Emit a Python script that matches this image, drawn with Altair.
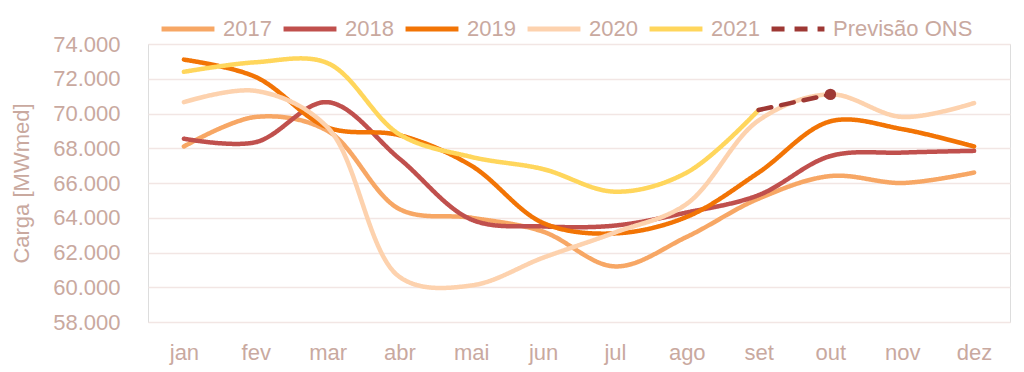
import altair as alt
import pandas as pd

months = ["jan", "fev", "mar", "abr", "mai", "jun", "jul", "ago", "set", "out", "nov", "dez"]

v2017 = [68100, 69800, 69000, 64500, 64000, 63200, 61200, 62900, 65100, 66400, 66000, 66600]
v2018 = [68550, 68350, 70650, 67400, 63900, 63500, 63550, 64300, 65300, 67550, 67750, 67850]
v2019 = [73100, 72100, 69200, 68750, 67000, 63700, 63100, 64050, 66600, 69550, 69100, 68100]
v2020 = [70650, 71300, 69200, 60600, 60100, 61700, 63150, 64800, 69600, 71100, 69800, 70600]
v2021 = [72400, 72950, 72900, 68800, 67500, 66800, 65500, 66600, 70200]
prev_months = ["set", "out"]
prev_values = [70200, 71100]
y_ticks = [58000, 60000, 62000, 64000, 66000, 68000, 70000, 72000, 74000]

series_names = ["2017", "2018", "2019", "2020", "2021", "Previsão ONS"]
series_colors = ["#F7A765", "#C0504D", "#F27405", "#FDD2AE", "#FFD65C", "#9E3834"]
series_dash = [[1, 0], [1, 0], [1, 0], [1, 0], [1, 0], [13, 10]]

rows = []
for name, vals in zip(series_names[:5], [v2017, v2018, v2019, v2020, v2021]):
    for m, v in zip(months, vals):
        rows.append({"mes": m, "serie": name, "carga": v})
for m, v in zip(prev_months, prev_values):
    rows.append({"mes": m, "serie": "Previsão ONS", "carga": v})
df = pd.DataFrame(rows)
df_point = pd.DataFrame({"mes": prev_months[-1:], "carga": prev_values[-1:]})

text_color = "#C9A99F"
font = "Liberation Sans"
fs = 22

x_enc = alt.X("mes:N", sort=months, scale=alt.Scale(domain=months, padding=0.5),
              axis=alt.Axis(title=None, labelFontSize=fs, labelColor=text_color, labelFont=font,
                            domain=False, ticks=False, grid=False, labelPadding=20, labelAngle=0))
y_axis = alt.Axis(title="Carga [MWmed]", titleFontSize=fs, titleColor=text_color,
                  titleFont=font, titleFontWeight="normal", titlePadding=19,
                  labelFontSize=fs, labelColor=text_color, labelFont=font,
                  values=y_ticks, tickCount=len(y_ticks),
                  labelExpr="replace(format(datum.value, ',.0f'), ',', '.')",
                  labelOverlap=False,
                  domain=False, ticks=False, labelPadding=28,
                  grid=True, gridColor="#F2E6E4", gridWidth=1.5)
y_enc = alt.Y("carga:Q", scale=alt.Scale(domain=[58000, 74000], nice=False, zero=False), axis=y_axis)

lines = alt.Chart(df).mark_line(strokeWidth=4.5, interpolate="catmull-rom", strokeCap="round").encode(
    x=x_enc,
    y=y_enc,
    color=alt.Color("serie:N", scale=alt.Scale(domain=series_names, range=series_colors),
                    legend=alt.Legend(title=None, orient="none", direction="horizontal",
                                      legendX=11, legendY=-44, symbolType="stroke",
                                      symbolSize=2800, symbolStrokeWidth=5,
                                      labelFontSize=fs, labelColor=text_color, labelFont=font,
                                      labelOffset=6, columnPadding=1, padding=0)),
    strokeDash=alt.StrokeDash("serie:N", scale=alt.Scale(domain=series_names, range=series_dash),
                              legend=None),
    order=alt.Order("serie:N"),
)

point = alt.Chart(df_point).mark_point(filled=True, size=130, opacity=1, color="#9E3834").encode(
    x=x_enc,
    y=y_enc,
)

chart = alt.layer(lines, point).properties(
    width=862, height=278,
    autosize=alt.AutoSizeParams(type="none"),
    padding={"left": 140, "top": 36, "right": 6, "bottom": 60},
).configure_view(stroke=None).configure(background="white")

chart.save("out.html", embed_options={"renderer": "svg", "actions": False})
